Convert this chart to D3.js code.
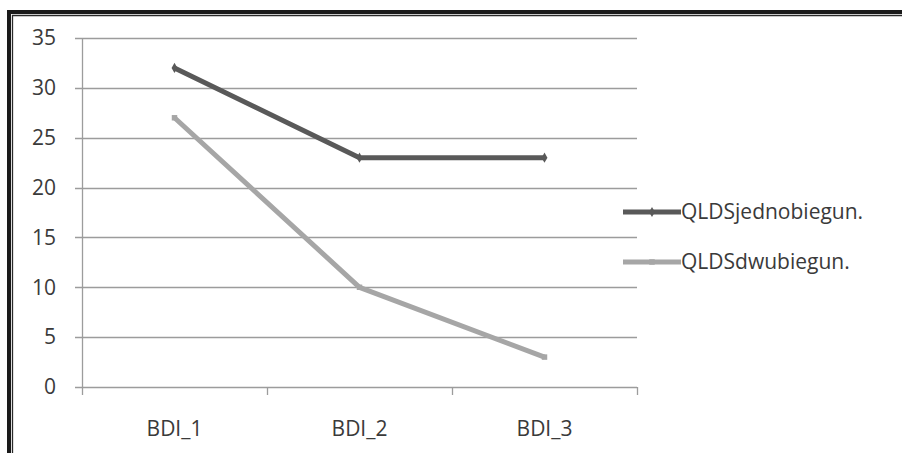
<!DOCTYPE html>
<html lang="pl">
<head>
  <meta charset="UTF-8">
  <title>QLDS a BDI</title>
  <script src="https://d3js.org/d3.v7.min.js"></script>
  <style>
    body { margin: 0; background: #fff; }
    text { font-family: "Open Sans", "Noto Sans", sans-serif; fill: #3a3a3a; font-size: 21px; }
  </style>
</head>
<body>
  <div id="chart"></div>
  <script>
    // dane
    const categories = ["BDI_1", "BDI_2", "BDI_3"];
    const seriesNames = ["QLDSjednobiegun.", "QLDSdwubiegun."];
    const jednobiegun = [32, 23, 23];
    const dwubiegun = [27, 10, 3];
    const yTicks = [0, 5, 10, 15, 20, 25, 30, 35];

    const series = [
      { name: seriesNames[0], values: jednobiegun, color: "#595959", marker: d3.symbolDiamond },
      { name: seriesNames[1], values: dwubiegun, color: "#a6a6a6", marker: d3.symbolSquare }
    ];

    const W = 902, H = 453;
    const plot = { left: 82, right: 637, top: 38, bottom: 387 };

    const svg = d3.select("#chart").append("svg")
      .attr("width", W).attr("height", H);

    // ramka (podwójna linia)
    svg.append("path")
      .attr("d", `M9,${H + 10} V12 H${W + 10}`)
      .attr("fill", "none").attr("stroke", "#1a1a1a").attr("stroke-width", 4);
    svg.append("path")
      .attr("d", `M12.5,${H + 10} V15.5 H${W + 10}`)
      .attr("fill", "none").attr("stroke", "#2a2a2a").attr("stroke-width", 1.3);

    const x = d3.scaleBand().domain(categories).range([plot.left, plot.right]);
    const y = d3.scaleLinear().domain([0, 35]).range([plot.bottom, plot.top]);

    // siatka
    svg.append("g")
      .selectAll("line")
      .data(yTicks)
      .join("line")
      .attr("x1", plot.left - 7).attr("x2", plot.right)
      .attr("y1", d => Math.round(y(d)) + 0.5).attr("y2", d => Math.round(y(d)) + 0.5)
      .attr("stroke", "#9c9c9c").attr("stroke-width", 1.3);

    // oś Y
    svg.append("line")
      .attr("x1", plot.left + 0.5).attr("x2", plot.left + 0.5)
      .attr("y1", plot.top).attr("y2", plot.bottom)
      .attr("stroke", "#9c9c9c").attr("stroke-width", 1.3);

    svg.append("g")
      .selectAll("text")
      .data(yTicks)
      .join("text")
      .attr("x", 56).attr("y", d => y(d))
      .attr("dy", "0.35em")
      .attr("text-anchor", "end")
      .text(d => d);

    // oś X – kreski między kategoriami
    const xEdges = categories.map(c => x(c)).concat([plot.right]);
    svg.append("g")
      .selectAll("line")
      .data(xEdges)
      .join("line")
      .attr("x1", d => Math.round(d) + 0.5).attr("x2", d => Math.round(d) + 0.5)
      .attr("y1", plot.bottom).attr("y2", plot.bottom + 8)
      .attr("stroke", "#9c9c9c").attr("stroke-width", 1.3);

    svg.append("g")
      .selectAll("text")
      .data(categories)
      .join("text")
      .attr("x", d => x(d) + x.bandwidth() / 2)
      .attr("y", 436)
      .attr("text-anchor", "middle")
      .text(d => d);

    // linie
    const line = d3.line()
      .x((d, i) => x(categories[i]) + x.bandwidth() / 2)
      .y(d => y(d));

    series.forEach(s => {
      svg.append("path")
        .datum(s.values)
        .attr("d", line)
        .attr("fill", "none")
        .attr("stroke", s.color)
        .attr("stroke-width", 5)
        .attr("stroke-linejoin", "round");
      svg.append("g")
        .selectAll("path")
        .data(s.values)
        .join("path")
        .attr("transform", (d, i) => `translate(${x(categories[i]) + x.bandwidth() / 2},${y(d)})`)
        .attr("d", d3.symbol().type(s.marker).size(30))
        .attr("fill", s.color);
    });

    // legenda
    const legend = svg.append("g");
    series.forEach((s, i) => {
      const ly = 212 + i * 50;
      legend.append("line")
        .attr("x1", 623).attr("x2", 681)
        .attr("y1", ly).attr("y2", ly)
        .attr("stroke", s.color).attr("stroke-width", 5);
      legend.append("path")
        .attr("transform", `translate(652,${ly})`)
        .attr("d", d3.symbol().type(s.marker).size(30))
        .attr("fill", s.color);
      legend.append("text")
        .attr("x", 681).attr("y", ly)
        .attr("dy", "0.35em")
        .text(s.name);
    });
  </script>
</body>
</html>
